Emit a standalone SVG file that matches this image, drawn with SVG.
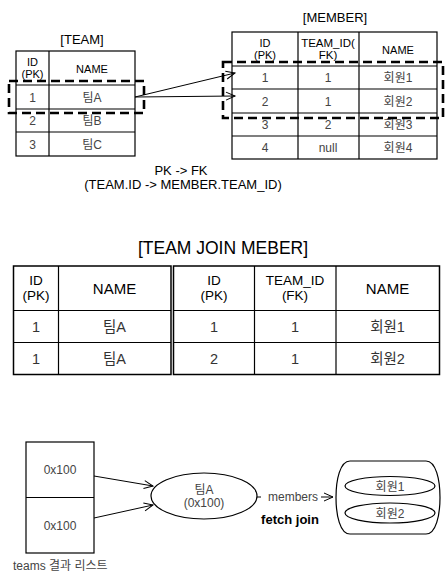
<svg xmlns="http://www.w3.org/2000/svg" width="448" height="581" viewBox="0 0 448 581">
<style>
text{font-family:"Liberation Sans","Noto Sans CJK KR",sans-serif;text-anchor:middle;}
.t{font-size:13px;fill:#000;}
.h{font-size:11px;fill:#000;}
.v{font-size:12px;fill:#444;}
.H{font-size:15px;fill:#000;}
.H2{font-size:13.5px;fill:#000;}
.V{font-size:14.5px;fill:#333;}
.cell{fill:#fff;stroke:#000;stroke-width:1.2;}
.ln{stroke:#000;stroke-width:1.2;fill:none;}
.dash{fill:none;stroke:#000;stroke-width:2.6;stroke-dasharray:9,5;}
.con{stroke:#000;stroke-width:1;fill:none;marker-end:url(#ah);}
</style>
<defs>
<marker id="ah" markerWidth="12" markerHeight="10" refX="10" refY="5" orient="auto" markerUnits="userSpaceOnUse">
<path d="M1,1 L10,5 L1,9" fill="none" stroke="#000" stroke-width="1"/>
</marker>
</defs>
<rect width="448" height="581" fill="#fff"/>

<g id="team">
<text class="t" x="82" y="44">[TEAM]</text>
<rect class="cell" x="16" y="51" width="119" height="105"/>
<line class="ln" x1="49" y1="51" x2="49" y2="156"/>
<line class="ln" x1="16" y1="85" x2="135" y2="85"/>
<line class="ln" x1="16" y1="109" x2="135" y2="109"/>
<line class="ln" x1="16" y1="132" x2="135" y2="132"/>
<text class="h"><tspan x="32.5" y="66">ID</tspan><tspan x="32.5" y="77.5">(PK)</tspan></text>
<text class="h" x="92" y="72.5">NAME</text>
<text class="v" x="32.5" y="101.5">1</text><text class="v" x="92" y="101.5">팀A</text>
<text class="v" x="32.5" y="125">2</text><text class="v" x="92" y="125">팀B</text>
<text class="v" x="32.5" y="148.5">3</text><text class="v" x="92" y="148.5">팀C</text>
<rect class="dash" x="9" y="81" width="135" height="32"/>
</g>

<g id="member">
<text class="t" x="335" y="22">[MEMBER]</text>
<rect class="cell" x="232" y="32" width="205" height="127"/>
<line class="ln" x1="298" y1="32" x2="298" y2="159"/>
<line class="ln" x1="359" y1="32" x2="359" y2="159"/>
<line class="ln" x1="232" y1="66" x2="437" y2="66"/>
<line class="ln" x1="232" y1="89" x2="437" y2="89"/>
<line class="ln" x1="232" y1="113" x2="437" y2="113"/>
<line class="ln" x1="232" y1="136" x2="437" y2="136"/>
<text class="h"><tspan x="265" y="47">ID</tspan><tspan x="265" y="58.5">(PK)</tspan></text>
<text class="h" style="font-size:11.5px"><tspan x="328" y="47">TEAM_ID(</tspan><tspan x="328" y="58.5">FK)</tspan></text>
<text class="h" x="398" y="53.5">NAME</text>
<text class="v" x="265" y="82">1</text><text class="v" x="328" y="82">1</text><text class="v" x="398" y="82">회원1</text>
<text class="v" x="265" y="105.5">2</text><text class="v" x="328" y="105.5">1</text><text class="v" x="398" y="105.5">회원2</text>
<text class="v" x="265" y="129">3</text><text class="v" x="328" y="129">2</text><text class="v" x="398" y="129">회원3</text>
<text class="v" x="265" y="152">4</text><text class="v" x="328" y="152">null</text><text class="v" x="398" y="152">회원4</text>
<rect class="dash" x="223" y="62" width="220" height="56"/>
</g>

<g id="fk-label">
<text class="t"><tspan x="181" y="175">PK -&gt; FK</tspan><tspan x="183" y="188.5">(TEAM.ID -&gt; MEMBER.TEAM_ID)</tspan></text>
</g>

<g id="join">
<text x="223" y="254" style="font-size:17.5px;fill:#000;">[TEAM JOIN MEBER]</text>
<rect class="cell" x="13.5" y="266" width="157.5" height="108.5" style="stroke-width:1.5"/>
<rect class="cell" x="173.5" y="266" width="266" height="108.5" style="stroke-width:1.5"/>
<line class="ln" x1="58.5" y1="266" x2="58.5" y2="374.5"/>
<line class="ln" x1="254.5" y1="266" x2="254.5" y2="374.5"/>
<line class="ln" x1="336" y1="266" x2="336" y2="374.5"/>
<line class="ln" x1="13.5" y1="310.5" x2="171" y2="310.5"/>
<line class="ln" x1="13.5" y1="342.5" x2="171" y2="342.5"/>
<line class="ln" x1="173.5" y1="310.5" x2="439.5" y2="310.5"/>
<line class="ln" x1="173.5" y1="342.5" x2="439.5" y2="342.5"/>
<text class="H2"><tspan x="36" y="284.5">ID</tspan><tspan x="36" y="299.5">(PK)</tspan></text>
<text class="H" x="114.5" y="294">NAME</text>
<text class="H2"><tspan x="214" y="284.5">ID</tspan><tspan x="214" y="299.5">(PK)</tspan></text>
<text class="H2"><tspan x="295" y="284.5">TEAM_ID</tspan><tspan x="295" y="299.5">(FK)</tspan></text>
<text class="H" x="387.5" y="294">NAME</text>
<text class="V" x="36" y="331.5">1</text><text class="V" x="114.5" y="331.5">팀A</text><text class="V" x="214" y="331.5">1</text><text class="V" x="295" y="331.5">1</text><text class="V" x="387.5" y="331.5">회원1</text>
<text class="V" x="36" y="363.5">1</text><text class="V" x="114.5" y="363.5">팀A</text><text class="V" x="214" y="363.5">2</text><text class="V" x="295" y="363.5">1</text><text class="V" x="387.5" y="363.5">회원2</text>
</g>

<g id="teams-list">
<rect class="cell" x="26" y="442" width="68" height="111"/>
<line class="ln" x1="26" y1="497.5" x2="94" y2="497.5"/>
<text class="v" x="60" y="474">0x100</text>
<text class="v" x="60" y="529.5">0x100</text>
<text class="v" x="13" y="570" style="font-size:12px;text-anchor:start">teams 결과 리스트</text>
</g>

<g id="teamA">
<ellipse cx="204" cy="496" rx="53" ry="23" fill="#fff" stroke="#000" stroke-width="1.2"/>
<text class="v"><tspan x="204" y="494">팀A</tspan><tspan x="204" y="506.5">(0x100)</tspan></text>
</g>

<g id="members">
<path d="M350,461 H426 C436,461 440,480 440,497.5 C440,515 436,534 426,534 H350 C340,534 336,515 336,497.5 C336,480 340,461 350,461 Z" fill="#fff" stroke="#000" stroke-width="1.2"/>
<ellipse cx="390" cy="486" rx="45" ry="9.5" fill="#fff" stroke="#000" stroke-width="1.2"/>
<text class="v" x="390" y="490.5">회원1</text>
<ellipse cx="390" cy="513" rx="45" ry="10" fill="#fff" stroke="#000" stroke-width="1.2"/>
<text class="v" x="390" y="517.5">회원2</text>
</g>

<g id="connectors">
<line class="con" x1="135" y1="97" x2="235" y2="73"/>
<line class="con" x1="135" y1="97" x2="235" y2="96"/>
<line class="con" x1="94" y1="476" x2="153" y2="486"/>
<line class="con" x1="94" y1="518" x2="153" y2="505"/>
<line class="con" x1="257" y1="497" x2="333" y2="497"/>
<rect x="261" y="488" width="60" height="16" fill="#fff"/>
<text class="v" x="293" y="501">members</text>
<text x="290" y="524" style="font-size:13px;font-weight:bold;fill:#000">fetch join</text>
</g>
</svg>
